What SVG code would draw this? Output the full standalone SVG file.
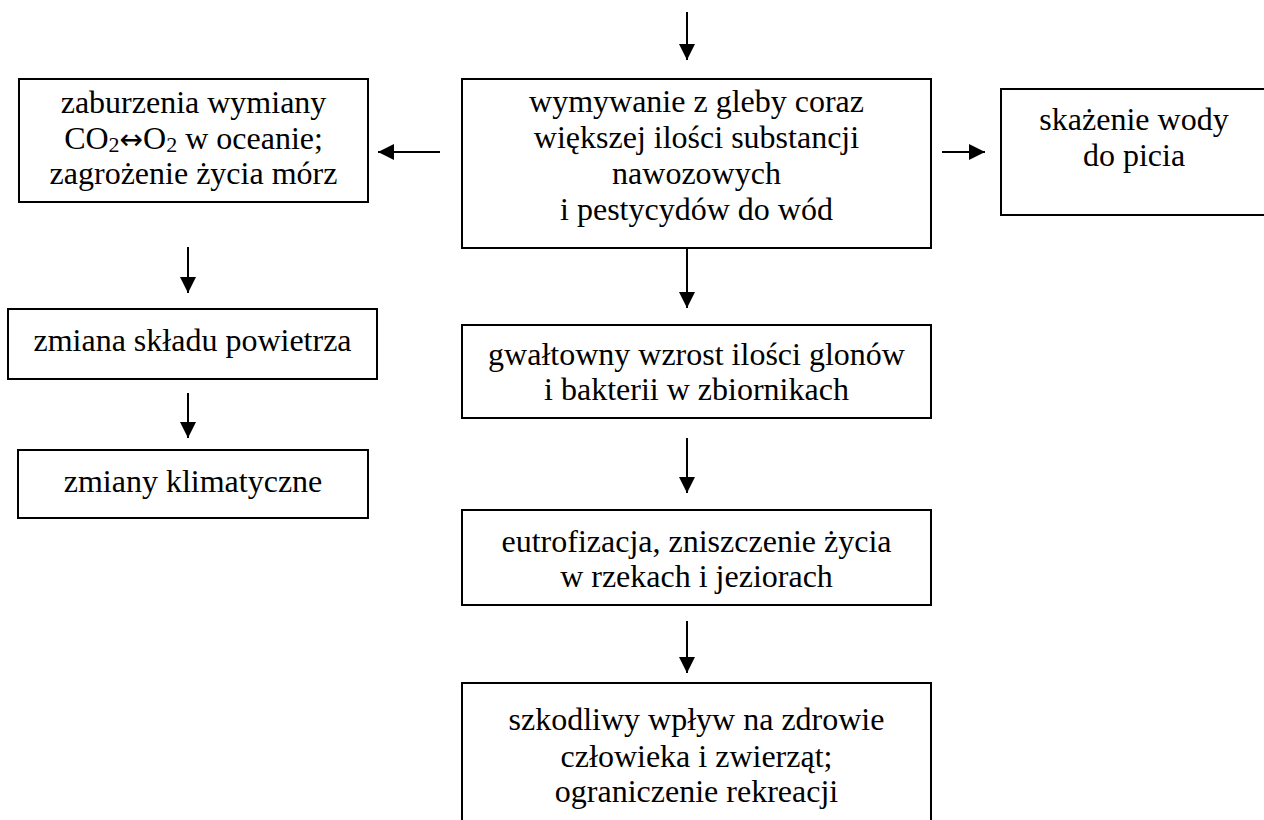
<svg xmlns="http://www.w3.org/2000/svg" width="1264" height="820" viewBox="0 0 1264 820">
<style>
  .box { fill: #ffffff; stroke: #000000; stroke-width: 2; }
  .t { font-family: "Liberation Serif", "Times New Roman", "DejaVu Serif", serif; font-size: 32px; fill: #000000; text-anchor: middle; }
  .sub { font-size: 22px; }
  .arr { font-family: "DejaVu Sans", sans-serif; font-size: 28px; }
  .conn { stroke: #000000; stroke-width: 2; fill: none; marker-end: url(#ah); }
</style>
<defs>
  <marker id="ah" markerUnits="userSpaceOnUse" markerWidth="16" markerHeight="16" viewBox="0 0 15 15" refX="15" refY="7.5" orient="auto">
    <path d="M0,0 L15,7.5 L0,15 Z" fill="#000000"/>
  </marker>
</defs>
<rect x="0" y="0" width="1264" height="820" fill="#ffffff"/>

<g id="connectors">
  <line class="conn" x1="687" y1="12" x2="687" y2="60"/>
  <line class="conn" x1="440" y1="152" x2="378" y2="152"/>
  <line class="conn" x1="942" y1="152" x2="985" y2="152"/>
  <line class="conn" x1="687" y1="249" x2="687" y2="308"/>
  <line class="conn" x1="687" y1="438" x2="687" y2="493"/>
  <line class="conn" x1="687" y1="621" x2="687" y2="673"/>
  <line class="conn" x1="188" y1="247" x2="188" y2="293"/>
  <line class="conn" x1="188" y1="393" x2="188" y2="438"/>
</g>

<g id="node-main">
  <rect class="box" x="462" y="79" width="469" height="169"/>
  <text class="t" x="696.5" y="112">wymywanie z gleby coraz</text>
  <text class="t" x="696.5" y="148">większej ilości substancji</text>
  <text class="t" x="696.5" y="184">nawozowych</text>
  <text class="t" x="696.5" y="220">i pestycydów do wód</text>
</g>

<g id="node-ocean">
  <rect class="box" x="19" y="79" width="349" height="123"/>
  <text class="t" x="193.5" y="113">zaburzenia wymiany</text>
  <text class="t" x="193.5" y="149">CO<tspan class="sub" dy="3">2</tspan><tspan class="arr" dy="-3">↔</tspan>O<tspan class="sub" dy="3">2</tspan><tspan dy="-3"> w oceanie;</tspan></text>
  <text class="t" x="193.5" y="184">zagrożenie życia mórz</text>
</g>

<g id="node-water">
  <rect class="box" x="1001" y="89" width="266" height="126"/>
  <text class="t" x="1134" y="130">skażenie wody</text>
  <text class="t" x="1134" y="166">do picia</text>
</g>

<g id="node-air">
  <rect class="box" x="8" y="309" width="369" height="70"/>
  <text class="t" x="192.5" y="351">zmiana składu powietrza</text>
</g>

<g id="node-climate">
  <rect class="box" x="18" y="450" width="350" height="68"/>
  <text class="t" x="193" y="492">zmiany klimatyczne</text>
</g>

<g id="node-algae">
  <rect class="box" x="462" y="325" width="469" height="93"/>
  <text class="t" x="696.5" y="365">gwałtowny wzrost ilości glonów</text>
  <text class="t" x="696.5" y="400">i bakterii w zbiornikach</text>
</g>

<g id="node-eutro">
  <rect class="box" x="462" y="510" width="469" height="95"/>
  <text class="t" x="696.5" y="552">eutrofizacja, zniszczenie życia</text>
  <text class="t" x="696.5" y="587">w rzekach i jeziorach</text>
</g>

<g id="node-health">
  <rect class="box" x="462" y="683" width="469" height="150"/>
  <text class="t" x="696.5" y="730">szkodliwy wpływ na zdrowie</text>
  <text class="t" x="696.5" y="767">człowieka i zwierząt;</text>
  <text class="t" x="696.5" y="802">ograniczenie rekreacji</text>
</g>
</svg>
